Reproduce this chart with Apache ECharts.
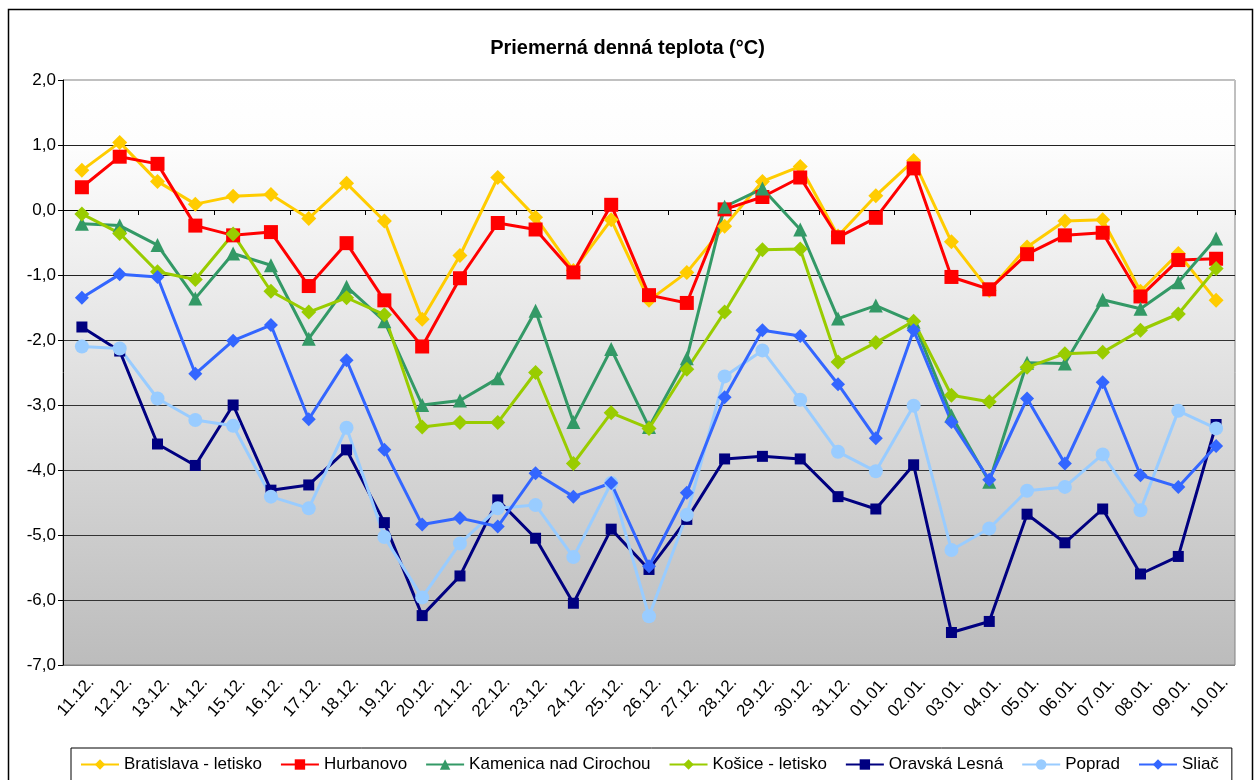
<!DOCTYPE html>
<html>
<head>
<meta charset="utf-8">
<script src="https://cdn.jsdelivr.net/npm/echarts@6/dist/echarts.min.js"></script>
<style>
  html, body { margin: 0; padding: 0; background: #fff; }
  #chart { width: 1255px; height: 780px; }
</style>
</head>
<body>
<div id="chart"></div>
<script>
// dni
const days = ["11.12.", "12.12.", "13.12.", "14.12.", "15.12.", "16.12.", "17.12.", "18.12.", "19.12.", "20.12.",
  "21.12.", "22.12.", "23.12.", "24.12.", "25.12.", "26.12.", "27.12.", "28.12.", "29.12.", "30.12.", "31.12.",
  "01.01.", "02.01.", "03.01.", "04.01.", "05.01.", "06.01.", "07.01.", "08.01.", "09.01.", "10.01."];

// priemerna denna teplota (°C)
const bratislava = [0.61, 1.04, 0.44, 0.09, 0.21, 0.24, -0.13, 0.41, -0.17, -1.68, -0.7, 0.5, -0.11, -0.93, -0.15,
  -1.39, -0.96, -0.25, 0.44, 0.67, -0.4, 0.22, 0.76, -0.49, -1.24, -0.57, -0.17, -0.15, -1.25, -0.67, -1.39];
const hurbanovo = [0.35, 0.82, 0.71, -0.24, -0.39, -0.34, -1.17, -0.51, -1.39, -2.1, -1.05, -0.2, -0.3, -0.96, 0.08,
  -1.31, -1.43, 0.01, 0.2, 0.5, -0.42, -0.12, 0.64, -1.03, -1.22, -0.68, -0.39, -0.35, -1.33, -0.77, -0.75];
const kamenica = [-0.21, -0.24, -0.54, -1.36, -0.67, -0.85, -1.98, -1.18, -1.71, -3.0, -2.93, -2.59, -1.55, -3.26, -2.14,
  -3.34, -2.28, 0.05, 0.33, -0.3, -1.67, -1.47, -1.72, -3.16, -4.18, -2.35, -2.36, -1.38, -1.52, -1.11, -0.44];
const kosice = [-0.06, -0.36, -0.95, -1.07, -0.37, -1.25, -1.57, -1.35, -1.61, -3.34, -3.27, -3.27, -2.5, -3.9, -3.12,
  -3.36, -2.45, -1.57, -0.61, -0.6, -2.34, -2.04, -1.71, -2.85, -2.95, -2.42, -2.21, -2.19, -1.85, -1.6, -0.9];
const oravska = [-1.8, -2.17, -3.6, -3.93, -3.0, -4.31, -4.23, -3.69, -4.81, -6.24, -5.63, -4.46, -5.05, -6.05, -4.91,
  -5.53, -4.76, -3.83, -3.79, -3.83, -4.41, -4.6, -3.92, -6.5, -6.33, -4.68, -5.12, -4.6, -5.6, -5.33, -3.3];
const poprad = [-2.1, -2.13, -2.9, -3.23, -3.32, -4.41, -4.59, -3.35, -5.03, -5.96, -5.13, -4.59, -4.54, -5.34, -4.2,
  -6.25, -4.69, -2.56, -2.16, -2.92, -3.72, -4.02, -3.01, -5.23, -4.9, -4.32, -4.26, -3.76, -4.62, -3.09, -3.36];
const sliac = [-1.35, -0.99, -1.03, -2.52, -2.01, -1.77, -3.22, -2.31, -3.69, -4.84, -4.74, -4.87, -4.05, -4.41, -4.2,
  -5.48, -4.35, -2.88, -1.85, -1.94, -2.68, -3.51, -1.85, -3.26, -4.15, -2.9, -3.9, -2.65, -4.08, -4.26, -3.63];

const font = "Arial, 'Liberation Sans', sans-serif";

let mychart = echarts.init(document.getElementById("chart"), null, { renderer: "canvas" });

function line(name, data, color, symbol, size) {
  return {
    name: name,
    type: "line",
    data: data,
    xAxisIndex: 0,
    color: color,
    symbol: symbol,
    symbolSize: size,
    showAllSymbol: true,
    lineStyle: { width: 3, color: color },
    itemStyle: { color: color },
    emphasis: { disabled: true }
  };
}

mychart.setOption({
  animation: false,
  title: {
    text: "Priemerná denná teplota (°C)",
    left: "center",
    top: 33,
    textStyle: { fontFamily: font, fontSize: 20, fontWeight: "bold", color: "#000" }
  },
  graphic: [
    {
      // ramik okolo grafu
      type: "rect",
      shape: { x: 8.5, y: 9.5, width: 1244, height: 780 },
      style: { fill: null, stroke: "#000", lineWidth: 1.5 },
      silent: true
    }
  ],
  legend: {
    bottom: -2,
    left: 71,
    itemWidth: 38,
    itemHeight: 13,
    itemGap: 18,
    padding: [8, 13, 9, 9],
    borderColor: "#000",
    borderWidth: 1,
    textStyle: { fontFamily: font, fontSize: 17, color: "#000" },
    data: ["Bratislava - letisko", "Hurbanovo", "Kamenica nad Cirochou", "Košice - letisko", "Oravská Lesná", "Poprad", "Sliač"]
  },
  grid: {
    left: 63,
    right: 20,
    top: 80,
    bottom: 115,
    show: true,
    borderColor: "#808080",
    borderWidth: 1,
    backgroundColor: new echarts.graphic.LinearGradient(0, 0, 0, 1, [
      { offset: 0, color: "#ffffff" },
      { offset: 0.11, color: "#fdfdfd" },
      { offset: 1, color: "#bcbcbc" }
    ])
  },
  xAxis: [
    {
      // os na nule, iba ciara a ticky
      type: "category",
      data: days,
      boundaryGap: true,
      axisLine: { onZero: true, lineStyle: { color: "#000", width: 1 } },
      axisTick: { show: true, length: 5, lineStyle: { color: "#000" } },
      axisLabel: { show: false },
      splitLine: { show: false }
    },
    {
      // popisky dole
      type: "category",
      data: days,
      position: "bottom",
      boundaryGap: true,
      axisLine: { show: false, onZero: false },
      axisTick: { show: false },
      axisLabel: {
        rotate: 48,
        margin: 25,
        interval: 0,
        fontFamily: font,
        fontSize: 17,
        color: "#000",
        padding: [0, -14, 0, 0]
      }
    }
  ],
  yAxis: {
    type: "value",
    min: -7,
    max: 2,
    interval: 1,
    axisLine: { show: true, lineStyle: { color: "#000", width: 1 } },
    axisTick: { show: true, length: 5, lineStyle: { color: "#000" } },
    axisLabel: {
      margin: 7,
      fontFamily: font,
      fontSize: 17,
      color: "#000",
      formatter: v => v.toFixed(1).replace(".", ",")
    },
    splitLine: {
      show: true,
      lineStyle: {
        color: ["#808080", "#333", "#333", "#333", "#333", "#333", "#222", "#222", "#222", "#c0c0c0"],
        width: 1
      }
    }
  },
  series: [
    line("Bratislava - letisko", bratislava, "#FFCC00", "diamond", 15),
    line("Hurbanovo", hurbanovo, "#FF0000", "rect", 14),
    line("Kamenica nad Cirochou", kamenica, "#339966", "triangle", 14),
    line("Košice - letisko", kosice, "#99CC00", "diamond", 15),
    line("Oravská Lesná", oravska, "#000080", "rect", 11),
    line("Poprad", poprad, "#99CCFF", "circle", 14),
    line("Sliač", sliac, "#3366FF", "diamond", 14)
  ]
});
window.addEventListener("resize", () => {
  mychart.resize();
});
</script>
</body>
</html>
